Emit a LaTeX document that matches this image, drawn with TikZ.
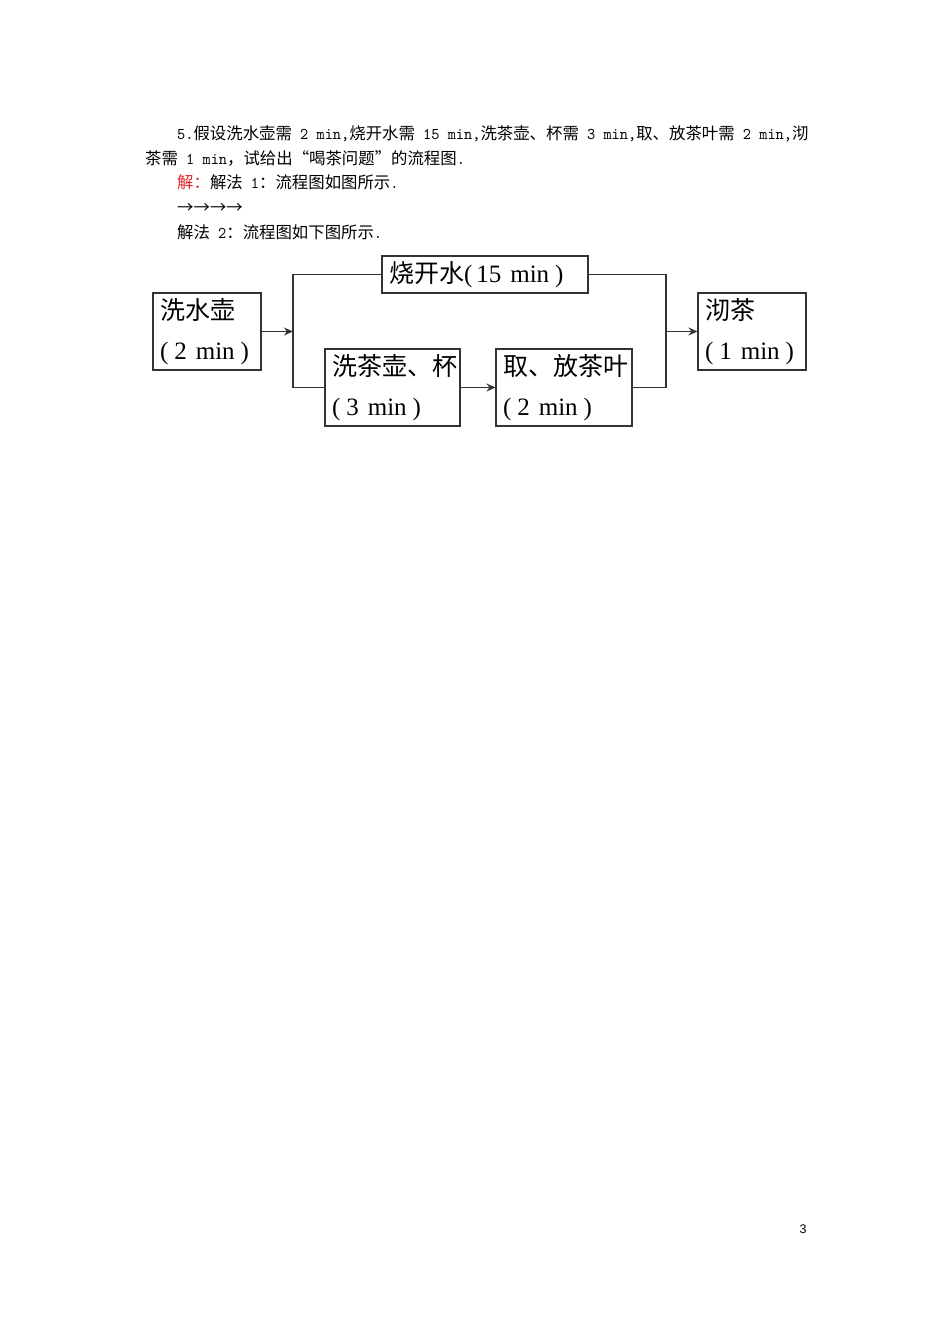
\documentclass[tikz,border=0pt]{standalone}
\usepackage{fontspec}
\setmainfont{Liberation Serif}
\newfontfamily\cjk{Noto Sans CJK SC}
\newfontfamily\mono[FakeStretch=0.952]{lmmono10-regular.otf}
\newfontfamily\pgnum{Liberation Sans}
\usetikzlibrary{arrows.meta}
\definecolor{ansred}{RGB}{225,35,35}
\newcommand\tm[1]{(\kern6pt#1\kern9pt min\kern6pt)}
\begin{document}
\begin{tikzpicture}[x=1pt,y=-1pt,
  box/.style={draw=black!80, line width=1.1pt, inner ysep=0pt, inner xsep=7pt, align=left,
              font=\fontsize{25}{40}\selectfont},
  twoline/.style={box, minimum height=77pt, text width=#1},
  oneline/.style={box, minimum height=37pt, text width=#1},
  conn/.style={draw=black!80, line width=1.1pt},
  arr/.style={conn, -{Stealth[length=9pt,width=8pt,inset=3pt]}},
  bodytext/.style={anchor=base west, inner sep=0pt, font=\fontsize{16.4}{16.4}\selectfont}
]
\fill[white] (0,0) rectangle (950,1344);
\useasboundingbox (0,0) rectangle (950,1344);

% text above the chart
\node[bodytext] (t1) at (177,139) {{\mono 5.}{\cjk 假设洗水壶需}{\mono\ 2 min,}{\cjk 烧开水需}{\mono\ 15 min,}{\cjk 洗茶壶、杯需}{\mono\ 3 min,}{\cjk 取、放茶叶需}{\mono\ 2 min,}{\cjk 沏}};
\node[bodytext] (t2) at (145,164) {{\cjk 茶需}{\mono\ 1 min}{\cjk ，试给出“喝茶问题”的流程图}{\mono .}};
\node[bodytext] (t3) at (177,188) {{\color{ansred}\cjk 解：}{\cjk 解法}{\mono\ 1}{\cjk ：流程图如图所示}{\mono .}};
\node[bodytext] (t4) at (177,213) {{\cjk →→→→}};
\node[bodytext] (t5) at (177,238) {{\cjk 解法}{\mono\ 2}{\cjk ：流程图如下图所示}{\mono .}};

% flow chart
\node[twoline=94pt] (A) at (207,331.5) {{\cjk 洗水壶}\\\tm{2}};
\node[oneline=192pt] (B) at (485,274.5) {{\cjk 烧开水}(\kern4pt 15\kern9pt min\kern6pt)};
\node[twoline=121pt] (C) at (392.5,387.5) {{\cjk 洗茶壶、杯}\\\tm{3}};
\node[twoline=122pt] (D) at (564,387.5) {{\cjk 取、放茶叶}\\\tm{2}};
\node[twoline=94pt] (E) at (752,331.5) {{\cjk 沏茶}\\\tm{1}};

\coordinate (L) at (293,331.5);
\coordinate (R) at (666,331.5);

\draw[arr] (A.east) -- (L);
\draw[conn] (B.west) -- (B.west -| L) -- (C.west -| L) -- (C.west);
\draw[arr] (C.east) -- (D.west);
\draw[conn] (B.east) -- (B.east -| R) -- (D.east -| R) -- (D.east);
\draw[arr] (R) -- (E.west);

% page number
\node[anchor=base, inner sep=0pt, font=\pgnum\fontsize{12.5}{12.5}\selectfont] (pg) at (803,1233) {3};
\end{tikzpicture}
\end{document}
